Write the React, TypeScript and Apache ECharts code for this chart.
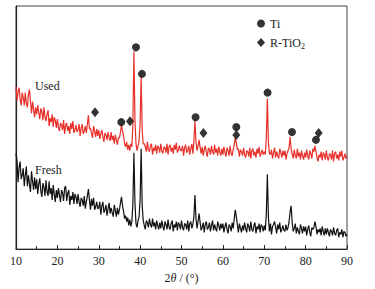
import React, { useEffect, useRef } from "react";
import * as echarts from "echarts";

// 2θ grid of the diffractograms (degrees)
const THETA_START = 10;
const THETA_STEP = 0.25;

// Used sample (red), intensity a.u., one value per 0.25° from 10° to 90°
const usedCounts = [
  165, 151, 160, 164, 152, 146, 159, 154, 146, 159, 148, 144, 157, 162, 150, 138, 150, 142, 134, 144,
  137, 146, 139, 132, 143, 140, 131, 144, 134, 130, 137, 141, 125, 133, 129, 137, 124, 134, 131, 123,
  132, 124, 120, 128, 126, 121, 131, 117, 126, 128, 120, 125, 117, 128, 122, 130, 118, 121, 126, 119,
  121, 127, 115, 123, 127, 117, 120, 125, 118, 127, 136, 122, 123, 118, 113, 125, 120, 114, 122, 115,
  121, 112, 117, 121, 114, 109, 118, 116, 111, 119, 113, 110, 119, 111, 115, 107, 116, 111, 106, 113,
  113, 119, 126, 120, 115, 107, 104, 109, 101, 106, 100, 107, 104, 126, 201, 131, 107, 100, 105, 110,
  128, 175, 121, 107, 107, 104, 99, 109, 101, 99, 105, 107, 96, 103, 100, 106, 97, 105, 103, 98,
  107, 100, 97, 104, 103, 98, 107, 96, 104, 106, 99, 103, 97, 106, 101, 108, 98, 101, 105, 100,
  100, 105, 95, 103, 106, 98, 100, 105, 96, 102, 107, 97, 110, 130, 109, 100, 105, 111, 103, 97,
  104, 95, 101, 105, 98, 94, 103, 101, 96, 105, 99, 96, 106, 98, 102, 95, 104, 99, 95, 102,
  96, 104, 98, 94, 103, 100, 95, 105, 97, 95, 101, 106, 113, 108, 101, 102, 94, 101, 99, 95,
  103, 96, 93, 100, 99, 94, 103, 92, 100, 102, 95, 99, 93, 102, 97, 104, 94, 97, 101, 96,
  99, 96, 113, 153, 109, 97, 96, 101, 92, 98, 103, 93, 99, 95, 92, 102, 98, 93, 100, 95,
  100, 91, 97, 100, 103, 114, 102, 96, 92, 101, 95, 92, 102, 94, 98, 91, 100, 95, 91, 98,
  93, 101, 95, 91, 100, 97, 92, 102, 99, 105, 99, 93, 89, 96, 93, 99, 90, 98, 96, 91,
  100, 93, 90, 97, 96, 91, 100, 89, 97, 99, 92, 96, 90, 99, 94, 100, 90, 93, 97, 92,
  94,
];

// Fresh sample (black), intensity a.u., one value per 0.25° from 10° to 90°
const freshCounts = [
  97, 90, 68, 83, 89, 71, 75, 82, 64, 75, 84, 64, 75, 66, 58, 79, 69, 60, 73, 61,
  71, 56, 66, 72, 59, 53, 67, 63, 54, 70, 58, 54, 69, 56, 62, 50, 65, 56, 48, 60,
  52, 62, 55, 48, 60, 57, 49, 62, 64, 49, 57, 60, 45, 54, 50, 58, 46, 56, 53, 46,
  56, 48, 43, 52, 50, 44, 54, 41, 48, 54, 61, 50, 40, 51, 44, 52, 40, 43, 48, 41,
  42, 48, 35, 44, 48, 37, 40, 45, 34, 41, 47, 36, 42, 37, 33, 45, 39, 33, 42, 35,
  40, 47, 53, 44, 38, 31, 34, 28, 32, 24, 30, 23, 28, 46, 98, 47, 26, 22, 29, 33,
  50, 102, 44, 29, 24, 20, 29, 27, 22, 31, 25, 22, 31, 23, 27, 20, 29, 24, 20, 27,
  21, 29, 23, 19, 28, 25, 20, 30, 22, 20, 26, 29, 18, 25, 22, 28, 19, 27, 25, 20,
  29, 22, 19, 26, 25, 20, 29, 18, 26, 28, 21, 25, 33, 55, 31, 21, 28, 36, 27, 19,
  22, 27, 17, 25, 28, 20, 22, 27, 18, 24, 29, 19, 25, 21, 18, 28, 24, 19, 26, 21,
  26, 17, 23, 27, 20, 16, 25, 23, 18, 27, 21, 31, 40, 33, 25, 17, 26, 21, 17, 24,
  19, 27, 21, 17, 26, 23, 18, 28, 20, 18, 24, 27, 16, 23, 20, 26, 17, 25, 23, 18,
  24, 19, 36, 76, 33, 18, 26, 15, 23, 25, 28, 22, 16, 25, 20, 27, 17, 20, 24, 19,
  18, 25, 19, 22, 28, 38, 44, 27, 18, 21, 26, 16, 22, 18, 15, 25, 21, 16, 23, 18,
  23, 14, 20, 24, 17, 13, 22, 20, 22, 28, 23, 15, 20, 17, 21, 14, 23, 18, 14, 21,
  15, 21, 17, 13, 20, 18, 14, 22, 16, 14, 19, 21, 12, 17, 15, 20, 12, 18, 17, 13,
  15,
];

// Phase markers [2θ, height]
const tiMarks: [number, number][] = [
  [35.45, 129], [39.0, 205], [40.45, 178], [53.4, 134],
  [63.25, 124], [70.8, 159], [76.7, 119], [82.5, 111],
];
const rutileMarks: [number, number][] = [
  [29.1, 139], [37.55, 130], [55.3, 118], [63.25, 116], [83.15, 118],
];

const X_MIN = 10;
const X_MAX = 90;
const X_INTERVAL = 10;
const Y_MIN = 0;
const Y_MAX = 247;

const FONT = "'Liberation Serif', 'Times New Roman', serif";

export default function App() {
  const ref = useRef<HTMLDivElement>(null);

  useEffect(() => {
    if (!ref.current) return;
    const chart = echarts.init(ref.current, null, { renderer: "svg" });
    const toPairs = (arr: number[]) =>
      arr.map((v, i) => [THETA_START + i * THETA_STEP, v]);

    chart.setOption({
      animation: false,
      backgroundColor: "#fff",
      grid: {
        left: 16,
        right: 28,
        top: 6,
        bottom: 36,
        show: true,
        borderColor: "#444",
        borderWidth: 1,
        backgroundColor: "transparent",
      },
      legend: {
        orient: "vertical",
        left: 252,
        top: 11,
        itemWidth: 8,
        itemHeight: 9,
        itemGap: 4,
        data: [
          { name: "Ti", icon: "circle" },
          { name: "R-TiO2", icon: "diamond" },
        ],
        formatter: (n: string) => (n === "R-TiO2" ? "R-TiO{sub|2}" : n),
        textStyle: {
          fontFamily: FONT,
          fontSize: 12,
          color: "#222",
          lineHeight: 15,
          rich: {
            sub: {
              fontFamily: FONT,
              fontSize: 8,
              color: "#222",
              verticalAlign: "bottom",
              lineHeight: 15,
              padding: [6, 0, 0, 0],
            },
          },
        },
      },
      xAxis: {
        type: "value",
        min: X_MIN,
        max: X_MAX,
        interval: X_INTERVAL,
        axisLine: { show: true, lineStyle: { color: "#222", width: 1.2 } },
        axisTick: { show: true, inside: true, length: 4, lineStyle: { color: "#222" } },
        minorTick: { show: true, splitNumber: 2, length: 3, lineStyle: { color: "#222" } },
        splitLine: { show: false },
        axisLabel: { color: "#222", fontFamily: FONT, fontSize: 12, margin: 6 },
        name: "2{i|θ} / (°)",
        nameLocation: "middle",
        nameGap: 19,
        nameTextStyle: {
          color: "#222",
          fontFamily: FONT,
          fontSize: 12,
          rich: {
            i: { fontStyle: "italic", fontFamily: FONT, fontSize: 12, color: "#222" },
          },
        },
      },
      yAxis: {
        type: "value",
        min: Y_MIN,
        max: Y_MAX,
        axisLine: { show: true, lineStyle: { color: "#222", width: 1.2 } },
        axisTick: { show: false },
        axisLabel: { show: false },
        splitLine: { show: false },
      },
      graphic: [
        {
          type: "text",
          left: 35,
          top: 80,
          style: { text: "Used", fontFamily: FONT, fontSize: 12, fill: "#222" },
        },
        {
          type: "text",
          left: 35,
          top: 164,
          style: { text: "Fresh", fontFamily: FONT, fontSize: 12, fill: "#222" },
        },
      ],
      series: [
        {
          name: "Used",
          type: "line",
          data: toPairs(usedCounts),
          showSymbol: false,
          symbol: "none",
          lineStyle: { color: "#e8302a", width: 1.2 },
          itemStyle: { color: "#e8302a" },
          z: 2,
        },
        {
          name: "Fresh",
          type: "line",
          data: toPairs(freshCounts),
          showSymbol: false,
          symbol: "none",
          lineStyle: { color: "#111", width: 1.2 },
          itemStyle: { color: "#111" },
          z: 3,
        },
        {
          name: "Ti",
          type: "scatter",
          symbol: "circle",
          symbolSize: 8,
          data: tiMarks,
          itemStyle: { color: "#000" },
          z: 4,
        },
        {
          name: "R-TiO2",
          type: "scatter",
          symbol: "diamond",
          symbolSize: [8, 10],
          data: rutileMarks,
          itemStyle: { color: "#000" },
          z: 4,
        },
      ],
    });

    return () => chart.dispose();
  }, []);

  return (
    <div
      ref={ref}
      style={{ position: "fixed", left: 0, top: 0, width: 375, height: 289, background: "#fff" }}
    />
  );
}
